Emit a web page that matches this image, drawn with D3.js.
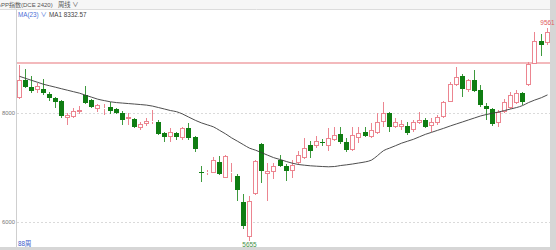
<!DOCTYPE html>
<html>
<head>
<meta charset="utf-8">
<script src="https://cdn.jsdelivr.net/npm/d3@7"></script>
<style>
  html, body { margin: 0; padding: 0; background: #fff; }
  svg { display: block; font-family: "Liberation Sans", "Noto Sans CJK SC", sans-serif; }
</style>
</head>
<body>
<svg id="chart" width="556" height="250"></svg>
<script>
// Weekly OHLC for the PP index, 88 weeks
const open = [8278,8600,8478,8418,8449,8345,8267,8224,7904,7933,
  8027,8327,8236,8067,8073,8115,8067,8005,7891,7885,
  7722,7791,7836,7836,7631,7564,7636,7540,7722,7558,
  6922,6896,6904,7096,6813,6896,6842,6369,5722,6509,
  7436,6873,6915,7133,7036,6933,7086,7176,7418,7387,
  7473,7387,7509,7618,7460,7315,7540,7660,7558,7631,
  7842,7995,7751,7740,7764,7691,7824,7873,7764,7813,
  7933,8205,8509,8673,8418,8613,8418,8127,8067,7813,
  8024,8085,8176,8369,8509,8904,9327,9278];
const high = [8880,8813,8673,8545,8631,8382,8291,8236,8000,8091,
  8127,8491,8255,8164,8164,8205,8091,8036,8000,7909,
  7836,7909,8050,7873,7655,7727,7655,7745,7813,7582,
  7024,6955,7195,7218,7236,7086,6873,6509,6478,7146,
  7449,7091,7091,7236,7073,7146,7296,7540,7478,7569,
  7527,7722,7751,7751,7545,7751,7751,7745,7824,8005,
  8205,8024,7904,7873,7842,7873,8024,7904,7904,7964,
  8218,8569,8842,8722,8631,8782,8509,8176,8091,8055,
  8249,8387,8431,8382,8927,9478,9454,9561];
const low = [8255,8455,8358,8364,8327,8218,8091,7909,7782,7909,
  7982,8164,8091,8018,7964,7982,7982,7782,7782,7727,
  7691,7764,7800,7600,7473,7473,7509,7509,7509,7291,
  6727,6855,6891,6855,6800,6733,6387,5873,5655,6500,
  6722,6387,6782,7018,6751,6813,7055,7164,7176,7364,
  7400,7296,7491,7436,7291,7300,7449,7564,7545,7618,
  7751,7660,7722,7691,7600,7660,7800,7722,7660,7782,
  7909,8200,8491,8296,8387,8382,8115,7873,7764,7751,
  8009,8073,8164,8145,8491,8891,9054,9249];
const close = [8613,8478,8405,8491,8358,8273,8205,7945,7964,8042,
  8055,8176,8104,8145,8091,8042,8005,7873,7918,7740,
  7800,7860,7855,7618,7558,7655,7564,7722,7540,7336,
  6909,6915,7146,6873,7206,6915,6587,5922,6387,7115,
  6933,6933,7024,7036,6933,7055,7236,7358,7296,7478,
  7455,7540,7600,7460,7315,7600,7642,7582,7691,7842,
  8005,7740,7842,7800,7631,7842,7873,7740,7842,7933,
  8205,8540,8660,8449,8600,8405,8145,8067,7800,8024,
  8205,8327,8358,8205,8904,9327,9254,9478];
// 23-week moving average
const ma23 = [8673,8636,8600,8564,8527,8500,8473,8445,8418,8391,
  8364,8327,8291,8255,8227,8205,8191,8182,8173,8164,
  8155,8145,8127,8100,8073,8045,8024,7982,7927,7864,
  7818,7782,7745,7682,7618,7545,7482,7418,7355,7318,
  7273,7227,7182,7145,7109,7078,7055,7042,7031,7024,
  7018,7013,7018,7036,7049,7064,7082,7104,7136,7218,
  7309,7355,7400,7446,7482,7518,7564,7609,7645,7682,
  7718,7764,7800,7836,7873,7909,7945,7973,7995,8018,
  8045,8073,8100,8136,8191,8236,8282,8332.57];
const yTicks = [6000, 8000];
const refLevel = 8909;
const titleText = "‹PP指数(DCE 2420)";
const periodText = "周线 ∨";
const maName = "MA(23)";
const maLegend = "MA1 8332.57";
const countText = "88周";

const svg = d3.select("#chart");
const W = 556, H = 250;
const L = 16, R = 550, T = 9, B = 247;

const idx = d3.range(open.length);
const x = d3.scaleBand().domain(idx).range([15.5, 15.5 + open.length * 6.07]);
const y = d3.scaleLinear().domain([6000, 8000]).range([222, 113]);
const cx = i => Math.round(x(i) + x.bandwidth() / 2);

const RED = "#ec8590", GREEN = "#0f7d12", GREEN_WICK = "#3e9a3e";

// frame and background
svg.append("rect").attr("width", W).attr("height", H).attr("fill", "#fff");
svg.append("rect").attr("x", R).attr("y", 0).attr("width", W - R).attr("height", H).attr("fill", "#d6d6d6");
svg.append("rect").attr("x", 0).attr("y", B).attr("width", W).attr("height", H - B).attr("fill", "#d6d6d6");
svg.append("rect").attr("x", 0).attr("y", 0).attr("width", R).attr("height", T).attr("fill", "#f6f6f6");
svg.append("line").attr("x1", 0).attr("x2", R).attr("y1", T + 0.5).attr("y2", T + 0.5).attr("stroke", "#dcdcdc");
svg.append("line").attr("x1", L + 0.5).attr("x2", L + 0.5).attr("y1", T).attr("y2", B).attr("stroke", "#cfcfcf");

// horizontal grid + y labels
const yAxis = d3.axisLeft(y).tickValues(yTicks).tickSize(0).tickPadding(1).tickFormat(d3.format("d"));
const ya = svg.append("g").attr("transform", `translate(${L},0)`).call(yAxis);
ya.select(".domain").remove();
ya.selectAll("text").attr("font-size", 5.8).attr("fill", "#777").attr("font-family", "Liberation Sans, sans-serif");
svg.append("g").selectAll("line").data(yTicks).join("line")
  .attr("x1", L + 1).attr("x2", R)
  .attr("y1", d => Math.round(y(d)) + 0.5).attr("y2", d => Math.round(y(d)) + 0.5)
  .attr("stroke", "#dadada").attr("stroke-dasharray", "2,2");

// reference level
svg.append("line").attr("x1", L + 1).attr("x2", R)
  .attr("y1", Math.round(y(refLevel))).attr("y2", Math.round(y(refLevel)))
  .attr("stroke", "#e8747b").attr("stroke-width", 1.15);

// candles
const g = svg.append("g");
idx.forEach(i => {
  const o = open[i], c = close[i], h = high[i], l = low[i];
  const up = c >= o;
  const px = cx(i);
  const yt = Math.round(y(Math.max(o, c)));
  const yb = Math.max(yt + 1, Math.round(y(Math.min(o, c))));
  const yh = Math.round(y(h)), yl = Math.round(y(l));
  const col = up ? RED : GREEN;
  const wcol = up ? RED : GREEN_WICK;
  g.append("line").attr("x1", px + 0.5).attr("x2", px + 0.5).attr("y1", yh).attr("y2", yt)
    .attr("stroke", wcol).attr("stroke-width", 1);
  g.append("line").attr("x1", px + 0.5).attr("x2", px + 0.5).attr("y1", yb).attr("y2", yl)
    .attr("stroke", wcol).attr("stroke-width", 1);
  if (up) {
    g.append("rect").attr("x", px - 1.5).attr("y", yt + 0.5).attr("width", 4)
      .attr("height", Math.max(0, yb - yt - 1)).attr("fill", "#fff").attr("stroke", col).attr("stroke-width", 1);
  } else {
    g.append("rect").attr("x", px - 2).attr("y", yt).attr("width", 5)
      .attr("height", Math.max(1, yb - yt)).attr("fill", col);
  }
});

// moving average
svg.append("path").datum(idx)
  .attr("d", d3.line().x(i => cx(i) + 0.5).y(i => y(ma23[i])).curve(d3.curveMonotoneX))
  .attr("fill", "none").attr("stroke", "#3a3a3a").attr("stroke-width", 0.9);

// extreme labels
const iMax = d3.maxIndex(high), iMin = d3.minIndex(low);
svg.append("text").attr("x", cx(iMax) + 0.5).attr("y", y(high[iMax]) - 3)
  .attr("text-anchor", "middle").attr("font-size", 6.5).attr("fill", "#e05a60")
  .text(high[iMax]);
svg.append("text").attr("x", cx(iMin) + 0.5).attr("y", y(low[iMin]) + 6.5)
  .attr("text-anchor", "middle").attr("font-size", 6.5).attr("fill", "#3f8f45")
  .text(low[iMin]);

// header and legend texts
svg.append("text").attr("x", -1).attr("y", 7).attr("font-size", 6).attr("fill", "#555").text(titleText);
svg.append("text").attr("x", 58).attr("y", 7).attr("font-size", 6.3).attr("fill", "#555").text(periodText);
svg.append("text").attr("x", 18).attr("y", 16.5).attr("font-size", 6.3).attr("fill", "#4a6ed6").text(maName + " ∨");
svg.append("text").attr("x", 49).attr("y", 16.5).attr("font-size", 6.3).attr("fill", "#444").text(maLegend);
svg.append("text").attr("x", 18).attr("y", 246).attr("font-size", 6.3).attr("fill", "#3b55c8").text(countText);
</script>
</body>
</html>
